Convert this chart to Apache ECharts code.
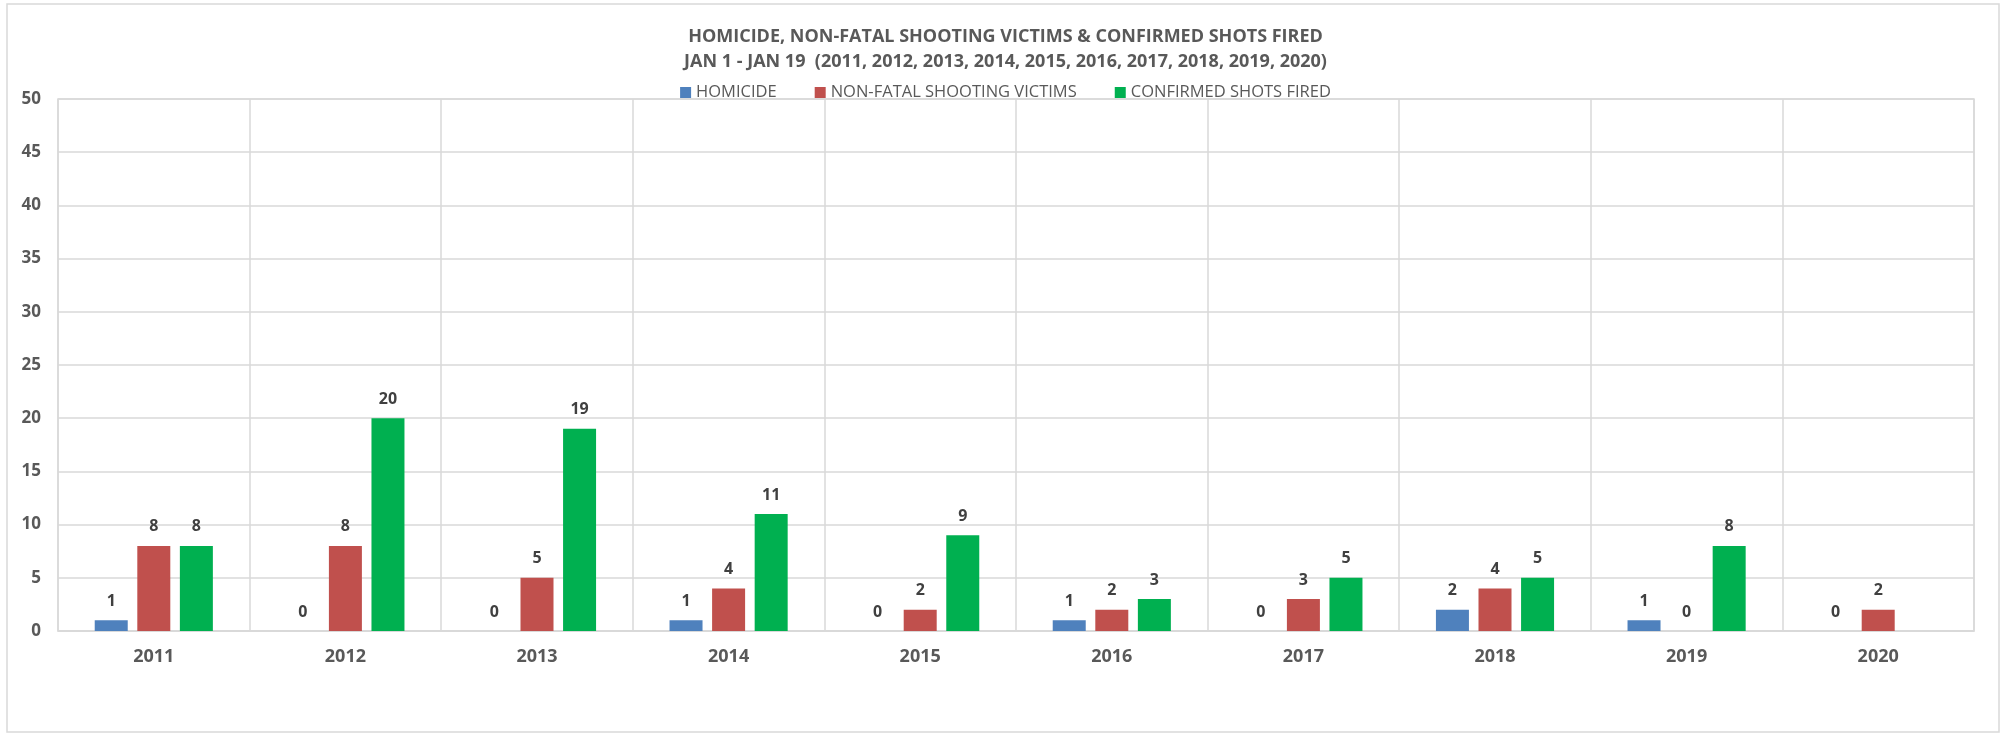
<!DOCTYPE html>
<html>
<head>
<meta charset="utf-8">
<script src="https://cdn.jsdelivr.net/npm/echarts@6/dist/echarts.min.js"></script>
<style>
  html, body { margin: 0; padding: 0; background: #fff; }
  #main { width: 2011px; height: 735px; }
</style>
</head>
<body>
<div id="main"></div>
<script>
// years on the x axis
var categories = ["2011", "2012", "2013", "2014", "2015", "2016", "2017", "2018", "2019", "2020"];
// counts
var homicide = [1, 0, 0, 1, 0, 1, 0, 2, 1, 0];
var nonFatal = [8, 8, 5, 4, 2, 2, 3, 4, 0, 2];
var shotsFired = [8, 20, 19, 11, 9, 3, 5, 5, 8, null];
// value axis
var yMin = 0, yMax = 50, yStep = 5;

var titleLines = [
    "HOMICIDE, NON-FATAL SHOOTING VICTIMS & CONFIRMED SHOTS FIRED",
    "JAN 1 - JAN 19  (2011, 2012, 2013, 2014, 2015, 2016, 2017, 2018, 2019, 2020)"
];

var FONT = "'Open Sans', sans-serif";
var GRID_COLOR = "#d9d9d9";

var mainChart = echarts.init(document.getElementById("main"));

var labelStyle = {
    show: true,
    position: "top",
    distance: 11,
    color: "#404040",
    fontFamily: FONT,
    fontWeight: "bold",
    fontSize: 16
};

var makeSeries = function (name, color, data) {
    return {
        name: name,
        type: "bar",
        barWidth: 33,
        barGap: "29%",
        itemStyle: { color: color },
        label: labelStyle,
        data: data
    };
};

var option = {
    animation: false,
    color: ["#4f81bd", "#c0504d", "#00b050"],
    graphic: [{
        type: "rect",
        shape: { x: 7, y: 4, width: 1992, height: 728 },
        style: { fill: "none", stroke: GRID_COLOR, lineWidth: 1.5 },
        silent: true
    }],
    title: [
        {
            text: titleLines[0],
            left: "center",
            top: 23,
            textStyle: { fontFamily: FONT, fontWeight: "bold", fontSize: 18, color: "#595959" }
        },
        {
            text: titleLines[1],
            left: "center",
            top: 48,
            textStyle: { fontFamily: FONT, fontWeight: "bold", fontSize: 18, color: "#595959" }
        }
    ],
    legend: {
        top: 79,
        left: "center",
        icon: "rect",
        itemWidth: 11,
        itemHeight: 11,
        itemGap: 38,
        textStyle: { fontFamily: FONT, fontSize: 16.5, color: "#595959" },
        data: ["HOMICIDE", "NON-FATAL SHOOTING VICTIMS", "CONFIRMED SHOTS FIRED"]
    },
    grid: {
        left: 58,
        right: 37,
        top: 99,
        bottom: 104,
        show: true,
        borderColor: GRID_COLOR,
        borderWidth: 1.5
    },
    xAxis: {
        type: "category",
        data: categories,
        axisLine: { show: true, lineStyle: { color: GRID_COLOR, width: 1.5 } },
        axisTick: { show: false },
        splitLine: { show: true, lineStyle: { color: GRID_COLOR, width: 1.5 } },
        axisLabel: {
            margin: 17,
            color: "#595959",
            fontFamily: FONT,
            fontWeight: "bold",
            fontSize: 18
        }
    },
    yAxis: {
        type: "value",
        min: yMin,
        max: yMax,
        interval: yStep,
        axisLine: { show: false },
        axisTick: { show: false },
        splitLine: { show: true, lineStyle: { color: GRID_COLOR, width: 1.5 } },
        axisLabel: {
            margin: 17,
            color: "#595959",
            fontFamily: FONT,
            fontWeight: "bold",
            fontSize: 17
        }
    },
    series: [
        makeSeries("HOMICIDE", "#4f81bd", homicide),
        makeSeries("NON-FATAL SHOOTING VICTIMS", "#c0504d", nonFatal),
        makeSeries("CONFIRMED SHOTS FIRED", "#00b050", shotsFired)
    ]
};

mainChart.setOption(option);
</script>
</body>
</html>
